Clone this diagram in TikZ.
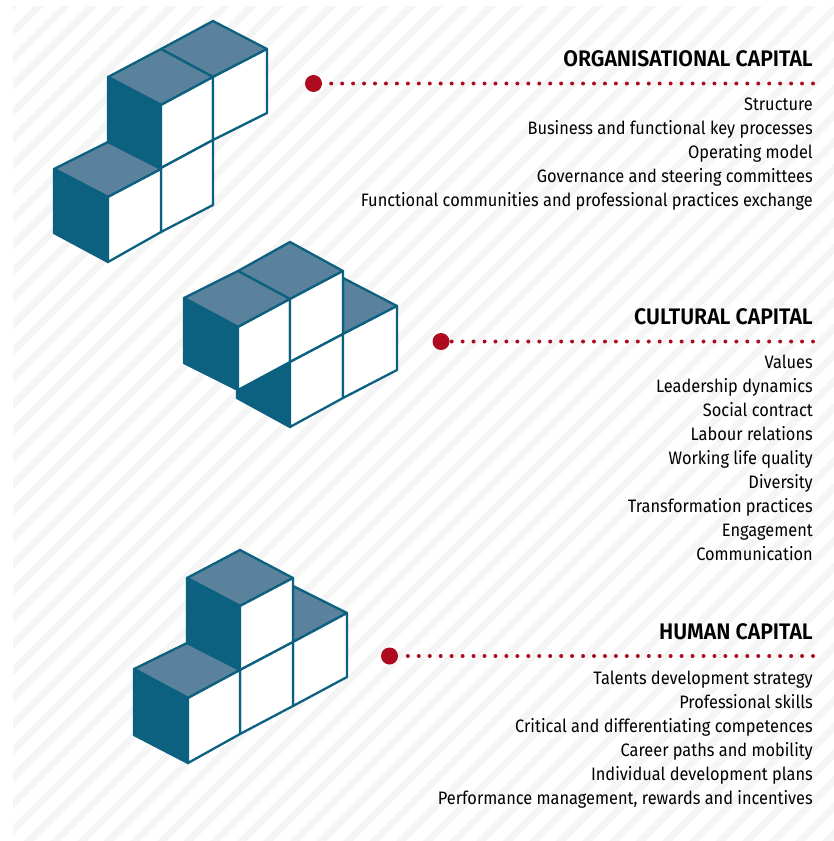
\documentclass[tikz,border=0pt]{standalone}
\usepackage{fontspec}
\setmainfont{Fira Sans}[FakeStretch=0.91]
\newfontfamily\headfont{Fira Sans}[FakeStretch=0.945,UprightFont=*-SemiBold]
\definecolor{teal}{HTML}{0C6180}
\definecolor{topblue}{HTML}{5A829C}
\definecolor{dotred}{HTML}{AD0A20}
\definecolor{stripe}{HTML}{F5F5F5}
\tikzset{
  topface/.style={fill=topblue,draw=teal,line width=2.3pt,line join=round},
  leftface/.style={fill=teal,draw=teal,line width=2.3pt,line join=round},
  frontface/.style={fill=white,draw=teal,line width=2.3pt,line join=round},
  headtext/.style={anchor=base east,inner sep=0pt,font=\headfont\fontsize{22.5}{24}\selectfont,text=black},
  itemtext/.style={anchor=base east,inner sep=0pt,font=\fontsize{18}{24}\selectfont,text=black},
  bullet/.style={circle,fill=dotred,minimum size=17pt,inner sep=0pt},
  dotline/.style={draw=dotred,line width=4pt,line cap=round,dash pattern=on 0pt off 10.95pt},
}
\begin{document}
\begin{tikzpicture}[x=1pt,y=-1pt]
\useasboundingbox (0,0) rectangle (834,841);
% striped background
\begin{scope}
\clip (13,6) rectangle (834,841);
\foreach \k in {0,...,64}{
  \pgfmathsetmacro{\T}{\k*26.6-8}
  \fill[stripe] (-10,{\T+5}) -- (-10,{\T+15}) -- ({\T+15},-10) -- ({\T+5},-10) -- cycle;
}
\end{scope}
% Organisational capital cubes
\filldraw[topface] (213,21) -- (267,49) -- (213,77) -- (161,49) -- cycle;
\filldraw[topface] (161,49) -- (213,77) -- (161,105) -- (108,77) -- cycle;
\filldraw[leftface] (108,77) -- (161,105) -- (161,168) -- (108,142) -- cycle;
\filldraw[frontface] (161,105) -- (213,77) -- (213,140) -- (161,168) -- cycle;
\filldraw[frontface] (213,77) -- (267,49) -- (267,113) -- (213,140) -- cycle;
\filldraw[frontface] (161,168) -- (213,140) -- (213,205) -- (161,232) -- cycle;
\filldraw[topface] (108,142) -- (161,169) -- (108,197) -- (54,169) -- cycle;
\filldraw[leftface] (54,169) -- (108,197) -- (108,262) -- (54,233) -- cycle;
\filldraw[frontface] (108,197) -- (161,169) -- (161,232) -- (108,262) -- cycle;
% Cultural capital cubes
\filldraw[topface] (343,278) -- (397,306) -- (343,334) -- cycle;
\filldraw[topface] (290,242) -- (343,271) -- (290,299) -- (238,271) -- cycle;
\filldraw[topface] (238,271) -- (290,299) -- (238,327) -- (184,298) -- cycle;
\filldraw[leftface] (184,298) -- (238,327) -- (238,390) -- (184,363) -- cycle;
\filldraw[leftface] (237,391) -- (290,362) -- (290,427) -- (237,398) -- cycle;
\filldraw[frontface] (238,327) -- (290,299) -- (290,362) -- (238,390) -- cycle;
\filldraw[frontface] (290,299) -- (343,271) -- (343,334) -- (290,362) -- cycle;
\filldraw[frontface] (290,362) -- (343,334) -- (343,398) -- (290,427) -- cycle;
\filldraw[frontface] (343,334) -- (397,306) -- (397,370) -- (343,398) -- cycle;
% Human capital cubes
\filldraw[topface] (293,586) -- (347,613) -- (293,642) -- cycle;
\filldraw[topface] (240,550) -- (293,578) -- (240,606) -- (187,578) -- cycle;
\filldraw[leftface] (187,578) -- (240,606) -- (240,670) -- (187,643) -- cycle;
\filldraw[frontface] (240,606) -- (293,578) -- (293,642) -- (240,670) -- cycle;
\filldraw[frontface] (293,642) -- (347,613) -- (347,677) -- (293,706) -- cycle;
\filldraw[frontface] (240,670) -- (293,642) -- (293,706) -- (240,734) -- cycle;
\filldraw[topface] (187,643) -- (240,670) -- (188,698) -- (134,669) -- cycle;
\filldraw[leftface] (134,669) -- (188,698) -- (188,763) -- (134,735) -- cycle;
\filldraw[frontface] (188,698) -- (240,670) -- (240,734) -- (188,763) -- cycle;
% Connectors
\node[bullet] (orgdot) at (313.5,83.5) {};
\coordinate (orgend) at (813,83.5);
\draw[dotline] (orgend) -- (orgdot);
\node[bullet] (culdot) at (441,341.5) {};
\coordinate (culend) at (813,341.5);
\draw[dotline] (culend) -- (culdot);
\node[bullet] (humdot) at (389.5,656) {};
\coordinate (humend) at (813,656);
\draw[dotline] (humend) -- (humdot);
% Text
\node[headtext] (orghead) at (813,66.5) {ORGANISATIONAL CAPITAL};
\node[itemtext] (org1) at (813,110) {Structure};
\node[itemtext] (org2) at (813,134) {Business and functional key processes};
\node[itemtext] (org3) at (813,158) {Operating model};
\node[itemtext] (org4) at (813,182) {Governance and steering committees};
\node[itemtext] (org5) at (813,206) {Functional communities and professional practices exchange};
\node[headtext] (culhead) at (813,324.5) {CULTURAL CAPITAL};
\node[itemtext] (cul1) at (813,368) {Values};
\node[itemtext] (cul2) at (813,392) {Leadership dynamics};
\node[itemtext] (cul3) at (813,416) {Social contract};
\node[itemtext] (cul4) at (813,440) {Labour relations};
\node[itemtext] (cul5) at (813,464) {Working life quality};
\node[itemtext] (cul6) at (813,488) {Diversity};
\node[itemtext] (cul7) at (813,512) {Transformation practices};
\node[itemtext] (cul8) at (813,536) {Engagement};
\node[itemtext] (cul9) at (813,560) {Communication};
\node[headtext] (humhead) at (813,639.5) {HUMAN CAPITAL};
\node[itemtext] (hum1) at (813,684) {Talents development strategy};
\node[itemtext] (hum2) at (813,708) {Professional skills};
\node[itemtext] (hum3) at (813,732) {Critical and differentiating competences};
\node[itemtext] (hum4) at (813,756) {Career paths and mobility};
\node[itemtext] (hum5) at (813,780) {Individual development plans};
\node[itemtext] (hum6) at (813,804) {Performance management, rewards and incentives};
\end{tikzpicture}
\end{document}
